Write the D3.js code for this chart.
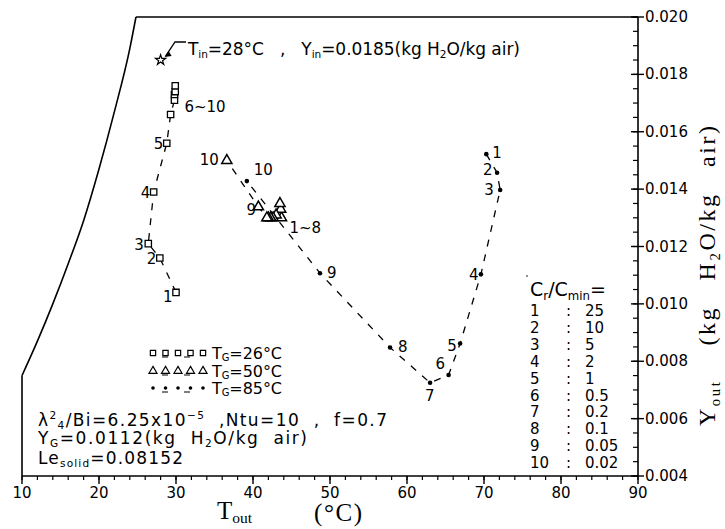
<!DOCTYPE html>
<html><head><meta charset="utf-8">
<script src="https://cdn.jsdelivr.net/npm/d3@7"></script>
<style>
body{margin:0;background:#fff}
svg text{font-family:"DejaVu Sans","Noto Sans",sans-serif;fill:#000}
.serif{font-family:"Liberation Serif","DejaVu Serif",serif !important}
</style>
</head><body>
<svg id="c" width="725" height="529"></svg>
<script>
// ---------------- data ----------------
const xTicks = [10, 20, 30, 40, 50, 60, 70, 80, 90];
const yTicks = [0.004, 0.006, 0.008, 0.010, 0.012, 0.014, 0.016, 0.018, 0.020];

// saturation boundary
const satT = [10, 12, 14, 16, 18, 20, 22, 24, 24.8];
const satY = [0.00750, 0.00870, 0.0100, 0.0114, 0.0129, 0.0147, 0.0167, 0.0189, 0.0200];

// inlet state
const inletT = 28, inletY = 0.0185;

// T_G = 26 °C (squares), index 1..10
const sqT = [30.0, 27.9, 26.4, 27.1, 28.8, 29.3, 29.8, 29.8, 29.9, 29.9];
const sqY = [0.0104, 0.0116, 0.0121, 0.0139, 0.0156, 0.0166, 0.0171, 0.0173, 0.0174, 0.0176];

// T_G = 50 °C (triangles)
const trT = [43.7, 43.6, 43.5, 43.0, 42.6, 42.3, 42.0, 41.8, 40.7, 36.6];
const trY = [0.0130, 0.0133, 0.0135, 0.0131, 0.0130, 0.0130, 0.0130, 0.0130, 0.01338, 0.0150];

// T_G = 85 °C (dots)
const dtT = [70.3, 71.7, 72.1, 69.6, 66.9, 65.4, 63.0, 57.8, 48.7, 39.2];
const dtY = [0.01522, 0.01457, 0.01397, 0.01103, 0.00862, 0.00752, 0.00725, 0.00848, 0.01107, 0.01428];

const crIndex = ["1", "2", "3", "4", "5", "6", "7", "8", "9", "10"];
const crValues = ["25", "10", "5", "2", "1", "0.5", "0.2", "0.1", "0.05", "0.02"];

const seriesNames = ["26", "50", "85"];

// ---------------- chart ----------------
const svg = d3.select("#c");
const x = d3.scaleLinear().domain([10, 90]).range([22, 638]);
const y = d3.scaleLinear().domain([0.004, 0.020]).range([476, 17]);

// helper: text with sub/superscripts; parts = [[str, 'n'|'sub'|'sup'], ...]
function rich(g, px, py, parts, size, cls, len, subOff) {
  const t = g.append("text").attr("x", px).attr("y", py).attr("font-size", size)
    .attr("xml:space", "preserve");
  if (cls) t.attr("class", cls);
  const off = { n: 0, sub: size * (subOff == null ? 0.2 : subOff), sup: -size * 0.42 };
  let cur = 0;
  parts.forEach(([s, k]) => {
    const ts = t.append("tspan").text(s);
    if (k !== "n") ts.attr("font-size", size * 0.62);
    const dy = off[k] - cur;
    if (dy !== 0) ts.attr("dy", dy);
    cur = off[k];
  });
  if (len) t.attr("textLength", len).attr("lengthAdjust", "spacing");
  return t;
}

// saturation curve + top border + left edge
const sat = satT.map((t, i) => [x(t), y(satY[i])]);
const line = d3.line().curve(d3.curveMonotoneX);
svg.append("path").attr("d", line(sat)).attr("fill", "none").attr("stroke", "#000").attr("stroke-width", 1.6);
svg.append("line").attr("x1", x(satT[satT.length - 1])).attr("x2", x(90))
  .attr("y1", y(0.020)).attr("y2", y(0.020)).attr("stroke", "#000").attr("stroke-width", 1.6);
svg.append("line").attr("x1", x(10)).attr("x2", x(10))
  .attr("y1", y(satY[0])).attr("y2", y(0.004)).attr("stroke", "#000").attr("stroke-width", 1.6);

// bottom axis
const xMinor = d3.range(10, 90.01, 2);
const gx = svg.append("g").attr("transform", `translate(0,${y(0.004)})`);
gx.append("line").attr("x1", x(10)).attr("x2", x(90)).attr("stroke", "#000").attr("stroke-width", 1.6);
gx.selectAll(".mn").data(xMinor).join("line").attr("x1", d => x(d)).attr("x2", d => x(d))
  .attr("y1", 0).attr("y2", 4).attr("stroke", "#000").attr("stroke-width", 1.2);
gx.selectAll(".mj").data(xTicks).join("line").attr("x1", d => x(d)).attr("x2", d => x(d))
  .attr("y1", 0).attr("y2", 8).attr("stroke", "#000").attr("stroke-width", 1.4);
gx.selectAll(".lb").data(xTicks).join("text").attr("x", d => x(d)).attr("y", 22)
  .attr("text-anchor", "middle").attr("font-size", 15).text(d => d);

// right axis
const yMinor = d3.range(0.004, 0.02001, 0.0005);
const gy = svg.append("g").attr("transform", `translate(${x(90)},0)`);
gy.append("line").attr("y1", y(0.004)).attr("y2", y(0.020)).attr("stroke", "#000").attr("stroke-width", 1.6);
gy.selectAll(".mn").data(yMinor).join("line").attr("y1", d => y(d)).attr("y2", d => y(d))
  .attr("x1", -5).attr("x2", 0).attr("stroke", "#000").attr("stroke-width", 1.2);
gy.selectAll(".mj").data(yTicks).join("line").attr("y1", d => y(d)).attr("y2", d => y(d))
  .attr("x1", -7).attr("x2", 6).attr("stroke", "#000").attr("stroke-width", 1.4);
gy.selectAll(".lb").data(yTicks).join("text").attr("x", 7).attr("y", d => y(d) + 5)
  .attr("font-size", 15).text(d => d3.format(".3f")(d));

// axis titles
rich(svg, 217, 519, [["T", "n"], ["out", "sub"]], 25, "serif", null, 0.14);
rich(svg, 314, 521, [["(°C)", "n"]], 25, "serif", 48);
const yl = svg.append("g").attr("transform", "translate(715,426) rotate(-90)");
rich(yl, 0, 0, [["Y", "n"], ["out", "sub"], ["    (kg   H", "n"], ["2", "sub"], ["O/kg   air)", "n"]], 24, "serif", 300);

// dashed series lines
const dash = "7,8";
function seriesLine(T, Y) {
  svg.append("path").attr("d", d3.line()(T.map((t, i) => [x(t), y(Y[i])])))
    .attr("fill", "none").attr("stroke", "#000").attr("stroke-width", 1.3).attr("stroke-dasharray", dash);
}
seriesLine(sqT, sqY);
seriesLine(trT, trY);
seriesLine(dtT, dtY);

// markers
const sym = {
  sq: d3.symbol().type(d3.symbolSquare).size(40),
  tr: d3.symbol().type(d3.symbolTriangle).size(45)
};
svg.selectAll(".sq").data(sqT).join("path")
  .attr("transform", (t, i) => `translate(${x(t)},${y(sqY[i])})`).attr("d", sym.sq())
  .attr("fill", "#fff").attr("stroke", "#000").attr("stroke-width", 1.3);
svg.selectAll(".tr").data(trT).join("path")
  .attr("transform", (t, i) => `translate(${x(t)},${y(trY[i])})`).attr("d", sym.tr())
  .attr("fill", "#fff").attr("stroke", "#000").attr("stroke-width", 1.5);
svg.selectAll(".dt").data(dtT).join("circle")
  .attr("cx", t => x(t)).attr("cy", (t, i) => y(dtY[i])).attr("r", 2.3).attr("fill", "#000");

// inlet star + annotation
svg.append("path").attr("transform", `translate(${x(inletT)},${y(inletY)})`)
  .attr("d", d3.symbol().type(d3.symbolStar).size(32)()).attr("fill", "#fff").attr("stroke", "#000").attr("stroke-width", 1.2);
svg.append("path").attr("d", `M186,42 L175,42 L${x(inletT) + 5},${y(inletY) - 4}`)
  .attr("fill", "none").attr("stroke", "#000").attr("stroke-width", 1.3);
svg.append("path").attr("d", `M${x(inletT) + 4},${y(inletY) - 3} l7,-1 l-3,-5 z`).attr("fill", "#000");
rich(svg, 188, 55, [["T", "n"], ["in", "sub"], ["=28°C   ,   Y", "n"], ["in", "sub"], ["=0.0185(kg H", "n"], ["2", "sub"], ["O/kg air)", "n"]], 17, null, 332);

// point labels
const lab = (px, py, s) => svg.append("text").attr("x", px).attr("y", py).attr("font-size", 15).text(s);
// squares
lab(x(sqT[0]) - 13, y(sqY[0]) + 10, "1");
lab(x(sqT[1]) - 13, y(sqY[1]) + 6, "2");
lab(x(sqT[2]) - 14, y(sqY[2]) + 6, "3");
lab(x(sqT[3]) - 13, y(sqY[3]) + 6, "4");
lab(x(sqT[4]) - 13, y(sqY[4]) + 6, "5");
lab(x(sqT[6]) + 10, y(sqY[5]) - 3, "6~10");
// triangles
lab(x(trT[9]) - 27, y(trY[9]) + 5, "10");
lab(x(trT[8]) - 12, y(trY[8]) + 8, "9");
lab(x(trT[0]) + 8, y(trY[0]) + 15, "1~8");
// dots
lab(x(dtT[0]) + 6, y(dtY[0]) + 4, "1");
lab(x(dtT[1]) - 14, y(dtY[1]) + 2, "2");
lab(x(dtT[2]) - 16, y(dtY[2]) + 5, "3");
lab(x(dtT[3]) - 12, y(dtY[3]) + 6, "4");
lab(x(dtT[4]) - 13, y(dtY[4]) + 8, "5");
lab(x(dtT[5]) - 13, y(dtY[5]) - 6, "6");
lab(x(dtT[6]) - 5, y(dtY[6]) + 18, "7");
lab(x(dtT[7]) + 8, y(dtY[7]) + 5, "8");
lab(x(dtT[8]) + 7, y(dtY[8]) + 5, "9");
lab(x(dtT[9]) + 7, y(dtY[9]) - 6, "10");

// series legend
const legY = [353, 371, 388];
const legKinds = ["sq", "tr", "dt"];
seriesNames.forEach((nm, i) => {
  const g = svg.append("g");
  g.append("line").attr("x1", 153).attr("x2", 203).attr("y1", legY[i] + 4).attr("y2", legY[i] + 4)
    .attr("stroke", "#000").attr("stroke-width", 1.2).attr("stroke-dasharray", "0,9,6,7");
  d3.range(5).forEach(j => {
    const cx = 153 + j * 12.5;
    if (legKinds[i] === "dt") g.append("circle").attr("cx", cx).attr("cy", legY[i]).attr("r", 1.8);
    else g.append("path").attr("transform", `translate(${cx},${legY[i]})`)
      .attr("d", d3.symbol().type(legKinds[i] === "sq" ? d3.symbolSquare : d3.symbolTriangle).size(28)())
      .attr("fill", "#fff").attr("stroke", "#000").attr("stroke-width", 1.2);
  });
  rich(g, 212, legY[i] + 6, [["T", "n"], ["G", "sub"], ["=" + nm + "°C", "n"]], 16, null, 70, 0.12);
});

// parameter text
rich(svg, 38, 426, [["λ", "n"], ["2", "sup"], ["4", "sub"], ["/Bi=6.25x10", "n"], ["−5", "sup"], ["  ,Ntu=10  ,  f=0.7", "n"]], 17, null, 349);
rich(svg, 38, 444, [["Y", "n"], ["G", "sub"], ["=0.0112(kg  H", "n"], ["2", "sub"], ["O/kg  air)", "n"]], 17, null, 269);
rich(svg, 38, 464, [["Le", "n"], ["solid", "sub"], ["=0.08152", "n"]], 17, null, 145);

// Cr/Cmin table
svg.append("circle").attr("cx", 527).attr("cy", 276).attr("r", 0.8);
rich(svg, 530, 296, [["C", "n"], ["r", "sub"], ["/C", "n"], ["min", "sub"], ["=", "n"]], 19);
crIndex.forEach((s, i) => {
  const yy = 316 + i * 16.9;
  svg.append("text").attr("x", 530).attr("y", yy).attr("font-size", 15).text(s);
  svg.append("text").attr("x", 566).attr("y", yy).attr("font-size", 15).text(":");
  svg.append("text").attr("x", 585).attr("y", yy).attr("font-size", 15).text(crValues[i]);
});
</script>
</body></html>
